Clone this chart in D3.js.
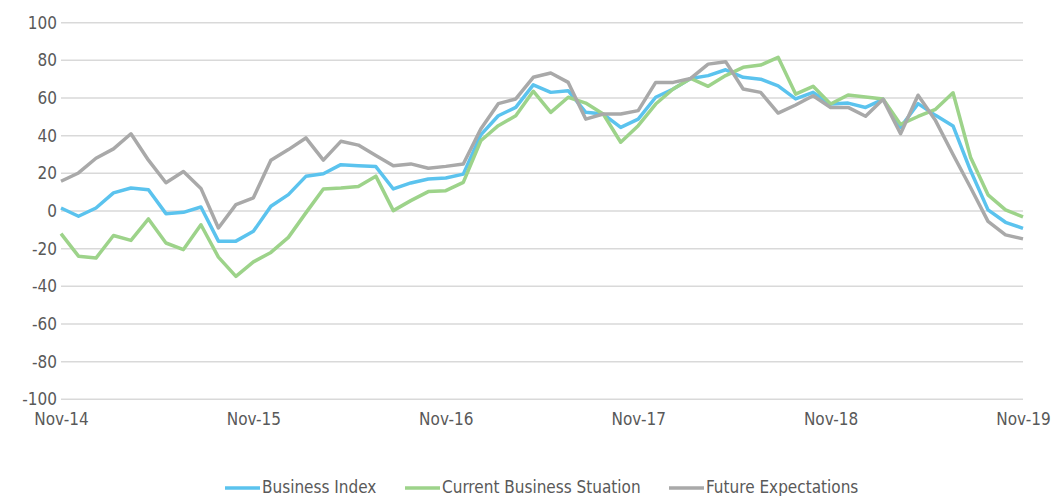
<!DOCTYPE html>
<html>
<head>
<meta charset="utf-8">
<script src="https://cdn.jsdelivr.net/npm/d3@7"></script>
<style>
  body { margin: 0; background: #fff; }
  text { font-family: "Liberation Sans Narrow", "DejaVu Sans Condensed", "Arial Narrow", sans-serif; fill: #595959; }
</style>
</head>
<body>
<svg id="chart" width="1053" height="496"></svg>
<script>
// survey points (11 per year), Nov-14 .. Nov-19
var tickLabels = ["Nov-14", "Nov-15", "Nov-16", "Nov-17", "Nov-18", "Nov-19"];
var tickIndex = [0, 11, 22, 33, 44, 55];
var yTicks = [-100, -80, -60, -40, -20, 0, 20, 40, 60, 80, 100];

var businessIndex = [1.6, -2.8, 1.6, 9.6, 12.2, 11.3, -1.4, -0.7, 2.1, -16, -16, -10.8, 2.5, 8.7, 18.4, 19.8,
  24.6, 24, 23.6, 11.7, 14.9, 17, 17.5, 19.6, 40.4, 50.6, 55, 67, 63, 63.9, 52.4, 51.5, 44.4, 48.8, 60.4,
  64.8, 70.4, 71.9, 75, 71, 70, 66.5, 59.5, 63, 56.8, 57.3, 55, 59.3, 44.5, 57, 50.8, 45.2, 21.5, 0.6, -6, -9.2];
var currentSituation = [-12, -24, -25, -13, -15.6, -4.2, -17, -20.5, -7.3, -24.5, -34.7, -27, -22, -14, -1, 11.7,
  12.2, 13, 18.5, 0.2, 5.5, 10.3, 10.8, 15.2, 37.3, 45.3, 50.6, 63.6, 52.4, 60.4, 57.3, 51.5, 36.5, 45.3, 56.8,
  64.8, 70.4, 66.2, 71.9, 76.3, 77.5, 81.6, 62.1, 66.2, 56.8, 61.6, 60.6, 59.5, 46, 50.2, 54, 62.8, 28.6, 8.6, 0.6, -3.1];
var futureExpectations = [15.8, 20.2, 28, 33, 41, 27, 15, 21, 12, -9, 3.4, 7, 27, 32.6, 38.8, 27,
  37, 35, 29.5, 24, 25, 22.7, 23.7, 25, 43.5, 57, 59.5, 71, 73.3, 68.3, 48.8, 51.5, 51.5, 53.3, 68.3,
  68.3, 70.4, 78, 79.3, 64.8, 63, 52, 56.3, 61.2, 55, 55, 50.3, 59.3, 41, 61.5, 48, 30, 12.5, -5.5, -12.7, -14.8];

var seriesNames = ["Business Index", "Current Business Stuation", "Future Expectations"];
var seriesColors = ["#5bc3ee", "#9dd38a", "#a9a9a9"];
var seriesData = [businessIndex, currentSituation, futureExpectations];

var svg = d3.select("#chart");

var x = d3.scaleLinear().domain([0, businessIndex.length - 1]).range([61, 1023]);
var y = d3.scaleLinear().domain([-100, 100]).range([399.3, 22.7]);

// gridlines
svg.append("g")
  .selectAll("line")
  .data(yTicks)
  .enter().append("line")
  .attr("x1", x.range()[0]).attr("x2", x.range()[1])
  .attr("y1", d => y(d)).attr("y2", d => y(d))
  .attr("stroke", "#d9d9d9")
  .attr("stroke-width", 1.5);

// y axis labels (plain hyphen for negatives, like the original)
var yAxis = d3.axisLeft(y).tickValues(yTicks).tickFormat(d => String(d)).tickSize(0).tickPadding(0);
svg.append("g")
  .attr("transform", "translate(57,0)")
  .call(yAxis)
  .call(g => g.select(".domain").remove())
  .selectAll("text")
  .style("font-size", "17px")
  .style("fill", "#595959")
  .style("font-family", null);

// x axis labels
var xAxis = d3.axisBottom(x)
  .tickValues(tickIndex)
  .tickFormat((d, i) => tickLabels[i])
  .tickSize(0).tickPadding(0);
svg.append("g")
  .attr("transform", "translate(0,413)")
  .call(xAxis)
  .call(g => g.select(".domain").remove())
  .selectAll("text")
  .style("font-size", "17px")
  .style("fill", "#595959")
  .style("font-family", null);

// lines
var line = d3.line()
  .x((d, i) => x(i))
  .y(d => y(d));

seriesData.forEach(function(s, k) {
  svg.append("path")
    .datum(s)
    .attr("fill", "none")
    .attr("stroke", seriesColors[k])
    .attr("stroke-width", 3.5)
    .attr("stroke-linejoin", "round")
    .attr("d", line);
});

// legend
var legendX = [225, 405, 669];
var legend = svg.append("g")
  .selectAll("g")
  .data(seriesNames)
  .enter().append("g")
  .attr("transform", (d, i) => "translate(" + legendX[i] + ",488)");

legend.append("line")
  .attr("x1", 0).attr("x2", 35)
  .attr("y1", 0).attr("y2", 0)
  .attr("stroke", (d, i) => seriesColors[i])
  .attr("stroke-width", 3.5);

legend.append("text")
  .attr("x", 37)
  .attr("y", 5)
  .style("font-size", "17px")
  .text(d => d);
</script>
</body>
</html>
